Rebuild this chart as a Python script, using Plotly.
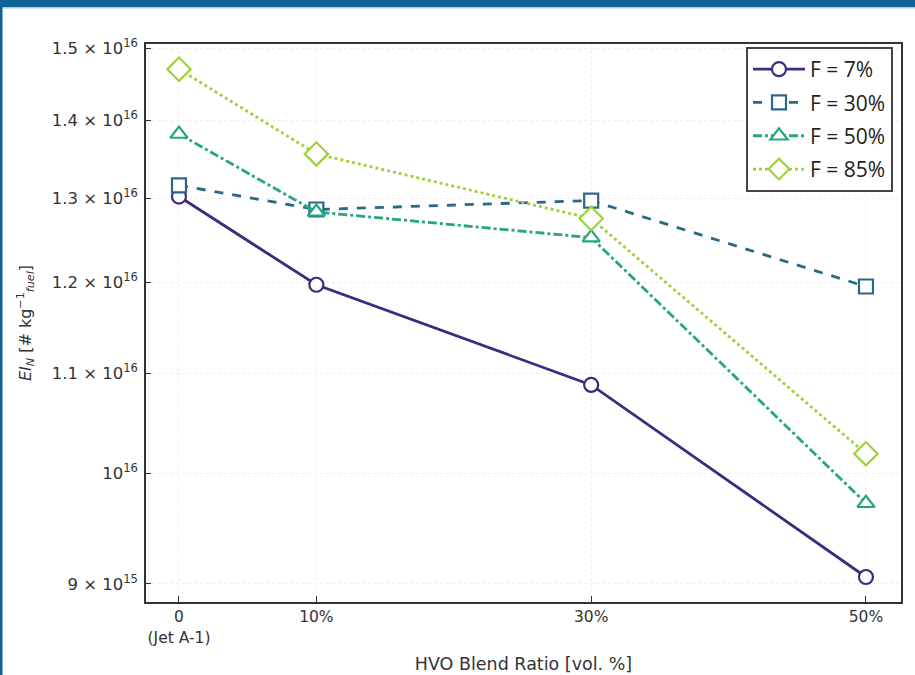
import plotly.graph_objects as go

# ---- data ----
blend = [0, 10, 30, 50]
x_ticktext = ["0<br>(Jet A-1)", "10%", "30%", "50%"]
series_names = ["F = 7%", "F = 30%", "F = 50%", "F = 85%"]
ei_f7 = [1.302e16, 1.197e16, 1.088e16, 9.06e15]
ei_f30 = [1.316e16, 1.286e16, 1.297e16, 1.195e16]
ei_f50 = [1.382e16, 1.283e16, 1.252e16, 9.72e15]
ei_f85 = [1.470e16, 1.356e16, 1.275e16, 1.019e16]
y_tickvals = [9e15, 1.0e16, 1.1e16, 1.2e16, 1.3e16, 1.4e16, 1.5e16]
y_ticktext = ["9 × 10<sup>15</sup>", "10<sup>16</sup>", "1.1 × 10<sup>16</sup>",
              "1.2 × 10<sup>16</sup>", "1.3 × 10<sup>16</sup>",
              "1.4 × 10<sup>16</sup>", "1.5 × 10<sup>16</sup>"]

colors = ["#3b2c7d", "#2c6886", "#25a681", "#9fd13b"]
dashes = ["solid", "dash", "dashdot", "dot"]
symbols = ["circle", "square", "triangle-up", "diamond"]
sizes = [14, 14, 15, 18]
all_y = [ei_f7, ei_f30, ei_f50, ei_f85]

fig = go.Figure()
for i, (name, ys, c, d, s, sz) in enumerate(zip(series_names, all_y, colors, dashes, symbols, sizes)):
    fig.add_trace(go.Scatter(
        x=blend, y=ys, name=name, mode="lines+markers", legendgroup=f"g{i}",
        line=dict(color=c, width=2.8, dash=d),
        marker=dict(symbol=s, size=sz, color="white", line=dict(color=c, width=2.2)),
    ))

L, R, T, B = 146, 14, 44, 73
W, H = 915, 675
pw, ph = W - L - R, H - T - B

def px(xp):
    return (xp - L) / pw

def py(yp):
    return (H - B - yp) / ph

shapes = [
    dict(type="rect", xref="paper", yref="paper", x0=px(0), x1=px(W), y0=py(7), y1=py(0),
         fillcolor="#0f6494", line=dict(width=0), layer="above"),
    dict(type="rect", xref="paper", yref="paper", x0=px(0), x1=px(W), y0=py(8.5), y1=py(7),
         fillcolor="#a9cce0", line=dict(width=0), layer="above"),
    dict(type="rect", xref="paper", yref="paper", x0=px(0), x1=px(2.5), y0=py(H), y1=py(0),
         fillcolor="#0f6494", line=dict(width=0), layer="above"),
]

fig.update_layout(
    width=W, height=H,
    margin=dict(l=L, r=R, t=T, b=B),
    paper_bgcolor="white", plot_bgcolor="white",
    font=dict(family="DejaVu Sans", size=16, color="#333333"),
    shapes=shapes,
    showlegend=True,
    legend=dict(
        x=px(893), y=py(47), xanchor="right", yanchor="top",
        bgcolor="white", bordercolor="#444444", borderwidth=2,
        font=dict(family="Open Sans", size=21, color="#222222"),
        itemwidth=52, tracegroupgap=3,
    ),
    xaxis=dict(
        range=[-2.4, 52.55], tickmode="array", tickvals=blend, ticktext=x_ticktext,
        ticks="inside", ticklen=6, tickwidth=1.2, tickcolor="#333333",
        tickfont=dict(size=15.5), automargin=False,
        showline=True, linecolor="#333333", linewidth=1.5, mirror=True,
        showgrid=True, gridcolor="#eeeeee", griddash="dot", gridwidth=1,
        zeroline=False,
        title=dict(text="HVO Blend Ratio [vol. %]", font=dict(size=17.5), standoff=12),
    ),
    yaxis=dict(
        type="log", range=[15.94679, 16.17775], tickmode="array",
        tickvals=y_tickvals, ticktext=y_ticktext,
        ticks="inside", ticklen=5, tickwidth=1.2, tickcolor="#333333",
        tickfont=dict(size=16.5), ticklabelstandoff=3, automargin=False,
        showline=True, linecolor="#333333", linewidth=1.5, mirror=True,
        showgrid=True, gridcolor="#eeeeee", griddash="dot", gridwidth=1,
        zeroline=False,
        title=dict(text="<i>EI</i><sub><i>N</i></sub> [# kg<sup>−1</sup><sub><i>fuel</i></sub>]",
                   font=dict(size=16), standoff=16),
    ),
)

fig.write_html("out.html")
